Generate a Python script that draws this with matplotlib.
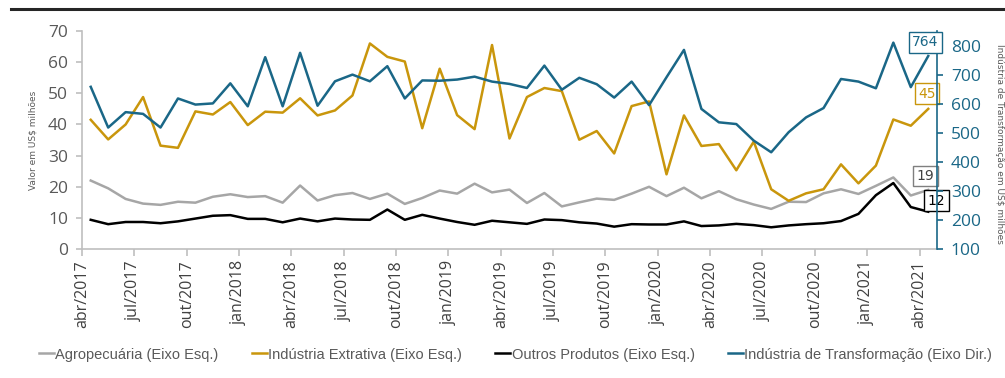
import matplotlib
matplotlib.use("Agg")
import matplotlib.pyplot as plt

meses = ["jan", "fev", "mar", "abr", "mai", "jun", "jul", "ago", "set", "out", "nov", "dez"]

# abr/2017 .. abr/2021, mensal
periodos = [f"{meses[(3 + i) % 12]}/{2017 + (3 + i) // 12}" for i in range(49)]

agropecuaria = [22.0, 19.5, 16.1, 14.6, 14.2, 15.2, 14.9, 16.8, 17.6, 16.7,
                17.0, 14.9, 20.4, 15.6, 17.3, 18.0, 16.1, 17.8, 14.5, 16.4,
                18.8, 17.8, 21.0, 18.2, 19.1, 14.8, 18.0, 13.7, 15.0, 16.2,
                15.8, 17.8, 20.0, 17.0, 19.7, 16.3, 18.6, 16.0, 14.3, 12.9,
                15.2, 15.1, 17.9, 19.2, 17.7, 20.3, 23.0, 17.2, 19.0]

extrativa = [41.5, 35.2, 40.0, 48.8, 33.2, 32.5, 44.2, 43.2, 47.2, 39.8,
             44.1, 43.8, 48.4, 42.9, 44.5, 49.3, 66.0, 61.7, 60.2, 38.8,
             57.9, 43.0, 38.5, 65.5, 35.5, 48.8, 51.7, 50.7, 35.1, 37.9,
             30.7, 45.9, 47.4, 24.0, 42.9, 33.1, 33.7, 25.3, 34.5, 19.2,
             15.5, 17.9, 19.2, 27.2, 21.1, 26.8, 41.6, 39.6, 45.0]

outros = [9.4, 8.0, 8.7, 8.7, 8.3, 8.9, 9.8, 10.7, 10.9, 9.7,
          9.7, 8.6, 9.8, 8.9, 9.8, 9.5, 9.4, 12.7, 9.4, 11.0,
          9.8, 8.7, 7.8, 9.1, 8.6, 8.1, 9.5, 9.3, 8.6, 8.2,
          7.2, 8.0, 7.9, 7.9, 8.9, 7.4, 7.6, 8.1, 7.7, 7.0,
          7.6, 8.0, 8.3, 9.0, 11.3, 17.3, 21.2, 13.5, 12.0]

transformacao = [658, 518, 571, 565, 518, 618, 597, 601, 670, 591,
                 760, 591, 775, 593, 677, 700, 677, 729, 618, 680,
                 679, 683, 693, 676, 668, 654, 731, 648, 689, 667,
                 621, 676, 595, 691, 785, 582, 536, 530, 473, 433,
                 502, 553, 585, 685, 676, 653, 810, 657, 764]

COR_AGRO = "#a6a6a6"
COR_EXTR = "#c9960c"
COR_OUTR = "#000000"
COR_TRANSF = "#1a6787"
COR_EIXO = "#bfbfbf"
COR_TEXTO = "#595959"

fig = plt.figure(figsize=(10.05, 3.78), dpi=100)
ax = fig.add_axes([0.0816, 0.341, 0.8507, 0.577])
ax2 = ax.twinx()

x = list(range(len(periodos)))
lw = 1.8
ax.plot(x, agropecuaria, color=COR_AGRO, lw=lw, label="Agropecuária (Eixo Esq.)", zorder=3)
ax.plot(x, extrativa, color=COR_EXTR, lw=lw, label="Indústria Extrativa (Eixo Esq.)", zorder=3)
ax.plot(x, outros, color=COR_OUTR, lw=lw, label="Outros Produtos (Eixo Esq.)", zorder=3)
ax2.plot(x, transformacao, color=COR_TRANSF, lw=lw,
         label="Indústria de Transformação (Eixo Dir.)", zorder=3)

ax.set_xlim(-0.5, len(periodos) - 0.5)
ax.set_ylim(0, 70)
ax2.set_ylim(100, 850)
ax.set_yticks(range(0, 71, 10))
ax2.set_yticks(range(100, 801, 100))

# rótulos trimestrais, marcados na borda esquerda de cada mês
pos_ticks = [i - 0.5 for i in range(0, len(periodos), 3)]
ax.set_xticks(pos_ticks)
ax.set_xticklabels(periodos[::3], rotation=90, fontsize=11.5, color="#404040",
                   family="Open Sans")

for s in ["top", "right"]:
    ax.spines[s].set_visible(False)
for s in ["top", "left", "bottom"]:
    ax2.spines[s].set_visible(False)
ax.spines["left"].set_color(COR_EIXO)
ax.spines["bottom"].set_color(COR_EIXO)
ax.spines["left"].set_linewidth(1.2)
ax.spines["bottom"].set_linewidth(1.2)
ax2.spines["right"].set_color(COR_TRANSF)
ax2.spines["right"].set_linewidth(1.2)

ax.tick_params(axis="x", colors=COR_EIXO, length=5, width=1.2, labelcolor="#404040", pad=3)
ax.tick_params(axis="y", colors=COR_EIXO, length=4, width=1.2, labelcolor=COR_TEXTO,
               labelsize=12.5, pad=6)
ax2.tick_params(axis="y", colors=COR_TRANSF, length=4, width=1.2, labelcolor=COR_TRANSF,
                labelsize=12.5, pad=6)
for t in ax.get_yticklabels() + ax2.get_yticklabels():
    t.set_family("Open Sans")

ax.set_ylabel("Valor em US$ milhões", fontsize=6.5, color=COR_TEXTO, labelpad=8)
fig.text(0.995, 0.62, "Indústria de Transformação em US$ milhões", rotation=270,
         fontsize=6.5, color=COR_TEXTO, ha="center", va="center")

# rótulos do último valor de cada série
ultimo = len(periodos) - 1
caixa = dict(boxstyle="square,pad=0.25", fc="white", lw=1)
ax2.annotate(f"{transformacao[-1]}", (ultimo, transformacao[-1]), xytext=(-2, 10),
             textcoords="offset points", ha="center", va="center", fontsize=10,
             color=COR_TRANSF, bbox=dict(caixa, ec=COR_TRANSF), zorder=5)
ax.annotate(f"{extrativa[-1]:.0f}", (ultimo, extrativa[-1]), xytext=(-1, 11),
            textcoords="offset points", ha="center", va="center", fontsize=10,
            color=COR_EXTR, bbox=dict(caixa, ec=COR_EXTR), zorder=5)
ax.annotate(f"{agropecuaria[-1]:.0f}", (ultimo, agropecuaria[-1]), xytext=(-2, 10),
            textcoords="offset points", ha="center", va="center", fontsize=10,
            color="#404040", bbox=dict(caixa, ec="#7f7f7f"), zorder=5)
ax.annotate(f"{outros[-1]:.0f}", (ultimo, outros[-1]), xytext=(6, 8),
            textcoords="offset points", ha="center", va="center", fontsize=10,
            color="black", bbox=dict(caixa, ec="black"), zorder=6, annotation_clip=False)

# linha superior do quadro
fig.add_artist(plt.Line2D([0.011, 1.0], [0.975, 0.975], color="#262626", lw=2.2))

h1, l1 = ax.get_legend_handles_labels()
h2, l2 = ax2.get_legend_handles_labels()
fig.legend(h1 + h2, l1 + l2, loc="center", bbox_to_anchor=(0.513, 0.062), ncol=4,
           frameon=False, handlelength=1.0, handletextpad=0.1, columnspacing=2.3,
           prop=dict(family="Liberation Sans", size=10.5),
           labelcolor=COR_TEXTO)

fig.savefig("out.png", dpi=100)
